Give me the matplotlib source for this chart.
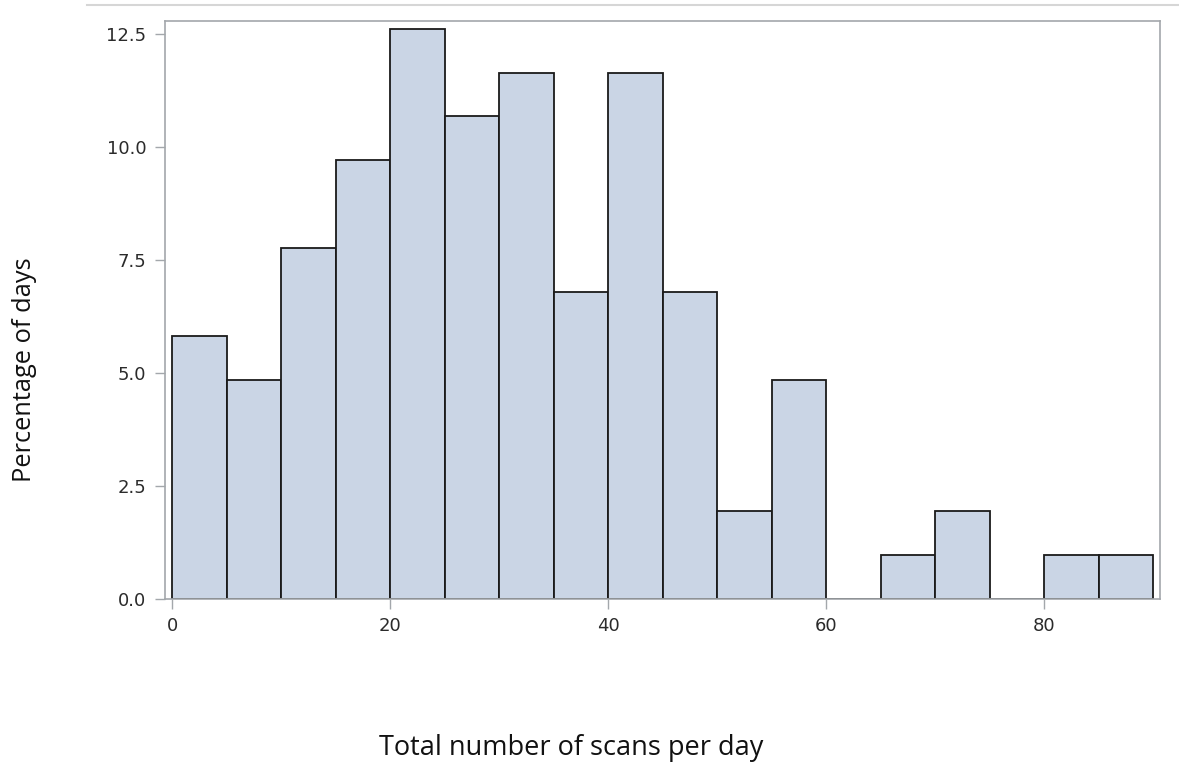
import matplotlib
matplotlib.use("Agg")
import matplotlib.pyplot as plt
from matplotlib.lines import Line2D

# bin left edges (width 5) and percentage of days in each bin
bin_edges = list(range(0, 95, 5))
percent = [5.83, 4.85, 7.77, 9.71, 12.62, 10.68, 11.65, 6.80, 11.65,
           6.80, 1.94, 4.85, 0.0, 0.97, 1.94, 0.0, 0.97, 0.97]
x_ticks = [0, 20, 40, 60, 80]
y_ticks = [0.0, 2.5, 5.0, 7.5, 10.0, 12.5]

FRAME = "#a3a7ab"
TICKTXT = "#2b2b2b"

fig = plt.figure(figsize=(11.79, 7.69), dpi=100)
ax = fig.add_axes([165 / 1179, 1 - 599 / 769, (1160 - 165) / 1179, (599 - 21) / 769])

ax.hist(bin_edges[:-1], bins=bin_edges, weights=percent,
        color="#cad5e5", edgecolor="#1a1a1a", linewidth=1.3)

ax.set_xlim(-0.65, 90.6)
ax.set_ylim(0, 12.79)
ax.set_xticks(x_ticks)
ax.set_yticks(y_ticks)
ax.set_yticklabels([f"{v:.1f}" for v in y_ticks])
for s in ax.spines.values():
    s.set_color(FRAME)
    s.set_linewidth(1.2)
ax.tick_params(colors=FRAME, labelcolor=TICKTXT, length=7, width=1,
               labelsize=13)
ax.tick_params(axis="y", pad=6.5)
ax.tick_params(axis="x", pad=6)
for lab in ax.get_xticklabels() + ax.get_yticklabels():
    lab.set_family("DejaVu Sans")

# thin rule across the top of the image
fig.add_artist(Line2D([87 / 1179, 1.0], [1 - 5 / 769] * 2,
                      transform=fig.transFigure, color="#d6d6d6", linewidth=1.5))

fig.text(25 / 1179, 1 - 370 / 769, "Percentage of days", rotation=90,
         ha="center", va="center", fontsize=18.3, family="Open Sans", color="#111111")
fig.text(571 / 1179, 1 - 748 / 769, "Total number of scans per day",
         ha="center", va="center", fontsize=19.5, family="Open Sans", color="#111111")

fig.savefig("out.png", dpi=100)
